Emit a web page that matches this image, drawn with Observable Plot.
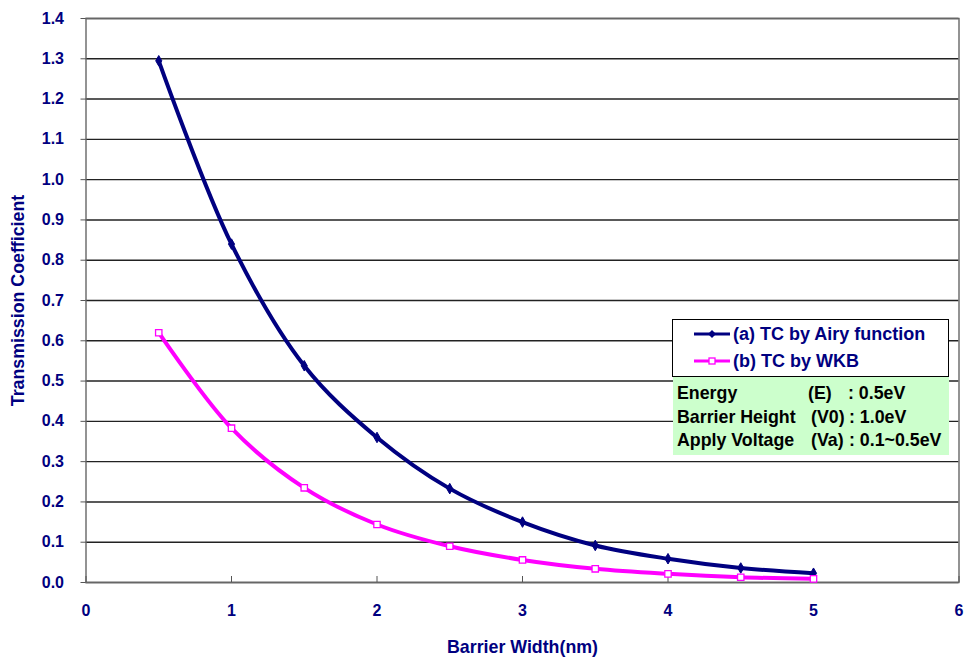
<!DOCTYPE html>
<html>
<head>
<meta charset="utf-8">
<script src="https://cdn.jsdelivr.net/npm/d3@7"></script>
<script src="https://cdn.jsdelivr.net/npm/@observablehq/plot@0.6"></script>
<style>
  html, body { margin: 0; padding: 0; background: #fff; }
  #wrap { position: relative; width: 969px; height: 663px; font-family: "Liberation Sans", Arial, sans-serif; font-weight: bold; }
  #legend { position: absolute; left: 672px; top: 319px; width: 277px; height: 58px; background: #fff; border: 1px solid #000; box-sizing: border-box; }
  #info { position: absolute; left: 673px; top: 377px; width: 276px; height: 78px; background: #ccffcc; }
  .lrow { position: absolute; left: 20px; height: 20px; display: flex; align-items: center; color: #000080; font-size: 18px; white-space: nowrap; }
  .lrow svg { margin-right: 2px; }
  .irow { position: absolute; left: 0; width: 276px; height: 22px; font-size: 17.8px; color: #000; white-space: nowrap; }
  .irow span { position: absolute; top: 0; line-height: 22px; }
</style>
</head>
<body>
<div id="wrap"></div>
<script>
// ---- data ----
const widths = [0.5, 1.0, 1.5, 2.0, 2.5, 3.0, 3.5, 4.0, 4.5, 5.0];
const tcAiry = [1.295, 0.84, 0.538, 0.36, 0.233, 0.150, 0.092, 0.059, 0.036, 0.023];
const tcWKB  = [0.62, 0.383, 0.235, 0.144, 0.090, 0.056, 0.034, 0.0215, 0.013, 0.009];
const xTicks = [0, 1, 2, 3, 4, 5, 6];
const yTicks = [0, 0.1, 0.2, 0.3, 0.4, 0.5, 0.6, 0.7, 0.8, 0.9, 1.0, 1.1, 1.2, 1.3, 1.4];
const seriesNames = ["(a) TC by Airy function", "(b) TC by WKB"];
const infoRows = [
  ["Energy", "(E)", ": 0.5eV"],
  ["Barrier Height", "(V0)", ": 1.0eV"],
  ["Apply Voltage", "(Va)", ": 0.1~0.5eV"]
];
const xTitle = "Barrier Width(nm)";
const yTitle = "Transmission Coefficient";

const navy = "#000080";
const pink = "#ff00ff";

const airy = widths.map((w, i) => ({w, tc: tcAiry[i]}));
const wkb = widths.map((w, i) => ({w, tc: tcWKB[i]}));

const chart = Plot.plot({
  width: 969,
  height: 663,
  marginLeft: 85.5,
  marginRight: 10.5,
  marginTop: 18,
  marginBottom: 81,
  style: {fontFamily: "'Liberation Sans', Arial, sans-serif", fontSize: "16px", fontWeight: "bold", color: navy, background: "white"},
  x: {domain: [0, 6]},
  y: {domain: [0, 1.4]},
  marks: [
    Plot.gridY(yTicks, {stroke: "#222", strokeOpacity: 1, strokeWidth: 1.4}),
    Plot.frame({stroke: "#666", strokeWidth: 1.4}),
    Plot.axisY(yTicks, {tickSize: 5, tickPadding: 17, tickFormat: d3.format(".1f"), stroke: "#555", fill: navy, label: null, fontSize: 16}),
    Plot.axisX(xTicks, {tickSize: -6, tickPadding: 28, tickFormat: d3.format("d"), stroke: "#555", fill: navy, label: null, fontSize: 16}),
    Plot.text([yTitle], {frameAnchor: "left", dx: -68, rotate: -90, fill: navy, fontSize: 17.8, fontWeight: "bold", textAnchor: "middle", lineAnchor: "middle"}),
    Plot.text([xTitle], {frameAnchor: "bottom", dy: 65, fill: navy, fontSize: 17.8, fontWeight: "bold", textAnchor: "middle", lineAnchor: "middle"}),
    Plot.line(airy, {x: "w", y: "tc", stroke: navy, strokeWidth: 4, curve: "catmull-rom"}),
    Plot.dot(airy, {x: "w", y: "tc", symbol: "diamond", r: 3.2, fill: navy, stroke: navy, strokeWidth: 1}),
    Plot.line(wkb, {x: "w", y: "tc", stroke: pink, strokeWidth: 4, curve: "catmull-rom"}),
    Plot.dot(wkb, {x: "w", y: "tc", symbol: "square", r: 3.6, fill: "white", stroke: pink, strokeWidth: 1.3})
  ]
});

const wrap = document.getElementById("wrap");
wrap.appendChild(chart);

// legend
const legend = document.createElement("div");
legend.id = "legend";
const swatch = (i) => i === 0
  ? `<svg width="38" height="12"><line x1="1" y1="6" x2="37" y2="6" stroke="${navy}" stroke-width="3"/><path d="M19,2 L23,6 L19,10 L15,6 Z" fill="${navy}"/></svg>`
  : `<svg width="38" height="12"><line x1="1" y1="6" x2="37" y2="6" stroke="${pink}" stroke-width="3"/><rect x="16" y="3" width="6" height="6" fill="white" stroke="${pink}" stroke-width="1.3"/></svg>`;
seriesNames.forEach((name, i) => {
  const row = document.createElement("div");
  row.className = "lrow";
  row.style.top = (i === 0 ? 4 : 31) + "px";
  row.innerHTML = swatch(i) + `<span>${name}</span>`;
  legend.appendChild(row);
});
wrap.appendChild(legend);

// info box
const info = document.createElement("div");
info.id = "info";
const col2 = [135, 138, 138];
const col3 = [175, 176, 176];
infoRows.forEach((r, i) => {
  const row = document.createElement("div");
  row.className = "irow";
  row.style.top = (5 + i * 23.7) + "px";
  row.innerHTML = `<span style="left:4px">${r[0]}</span><span style="left:${col2[i]}px">${r[1]}</span><span style="left:${col3[i]}px">${r[2]}</span>`;
  info.appendChild(row);
});
wrap.appendChild(info);
</script>
</body>
</html>
